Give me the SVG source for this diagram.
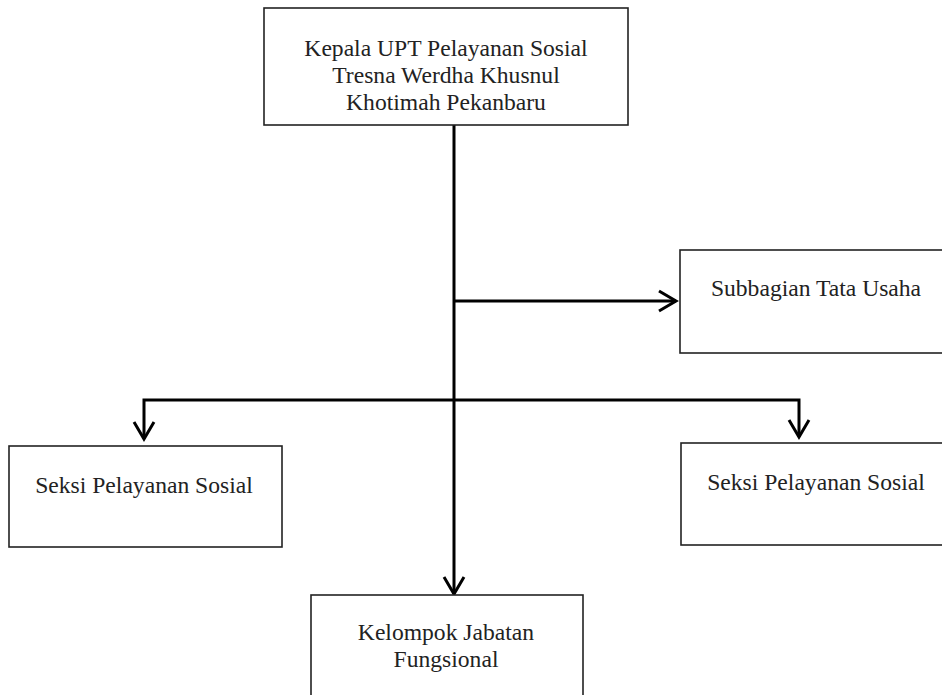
<svg xmlns="http://www.w3.org/2000/svg" width="942" height="695" viewBox="0 0 942 695">
<defs>
<style>
.box{fill:#fff;stroke:#222;stroke-width:1.6}
.lbl{font-family:"Liberation Serif","Times New Roman",serif;font-size:23.6px;fill:#222;text-anchor:middle}
.con{fill:none;stroke:#000;stroke-width:3}
</style>
<marker id="arr" markerUnits="userSpaceOnUse" markerWidth="30" markerHeight="30" viewBox="-20 -15 30 30" refX="0" refY="0" orient="auto">
<path d="M-17,-10 L0,0 L-17,10" fill="none" stroke="#000" stroke-width="3"/>
</marker>
</defs>
<rect width="942" height="695" fill="#fff"/>
<g id="connectors">
<path class="con" d="M454,125 V594" marker-end="url(#arr)"/>
<path class="con" d="M454,301 H676" marker-end="url(#arr)"/>
<path class="con" d="M454,400 H144 V439" marker-end="url(#arr)"/>
<path class="con" d="M454,400 H799 V437" marker-end="url(#arr)"/>
</g>
<g id="kepala">
<rect class="box" x="264" y="8" width="364" height="117"/>
<text class="lbl" x="446" y="56">Kepala UPT Pelayanan Sosial</text>
<text class="lbl" x="446" y="83">Tresna Werdha Khusnul</text>
<text class="lbl" x="446" y="110">Khotimah Pekanbaru</text>
</g>
<g id="subbagian">
<rect class="box" x="680" y="250" width="270" height="103"/>
<text class="lbl" x="816" y="296">Subbagian Tata Usaha</text>
</g>
<g id="seksi-kiri">
<rect class="box" x="9" y="446" width="273" height="101"/>
<text class="lbl" x="144" y="493">Seksi Pelayanan Sosial</text>
</g>
<g id="seksi-kanan">
<rect class="box" x="681" y="443" width="270" height="102"/>
<text class="lbl" x="816" y="490">Seksi Pelayanan Sosial</text>
</g>
<g id="kelompok">
<rect class="box" x="311" y="595" width="272" height="120"/>
<text class="lbl" x="446" y="640">Kelompok Jabatan</text>
<text class="lbl" x="446" y="667">Fungsional</text>
</g>
</svg>
